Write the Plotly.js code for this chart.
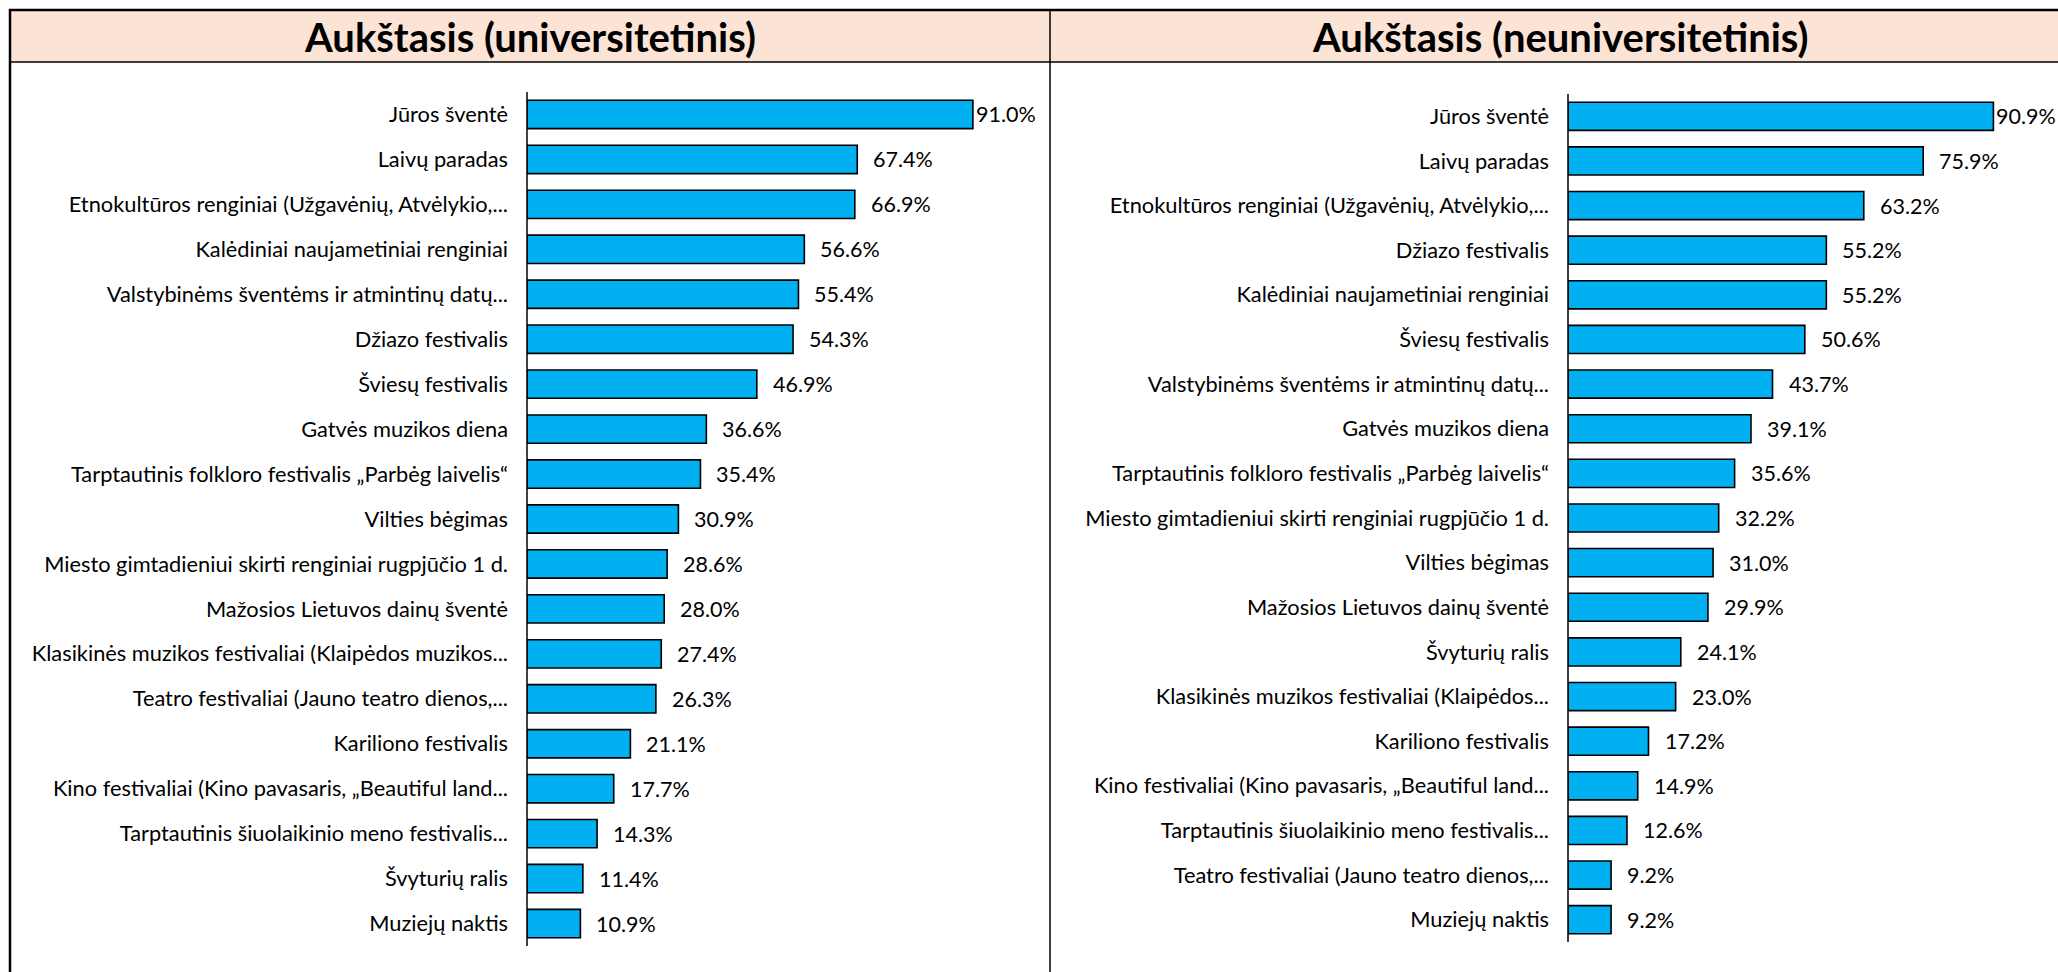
<!DOCTYPE html>
<html>
<head>
<meta charset="utf-8">
<script src="https://cdn.plot.ly/plotly-3.0.1.min.js"></script>
<style>html,body{margin:0;padding:0;background:#fff;} #chart{width:2058px;height:972px;}</style>
</head>
<body>
<div id="chart"></div>
<script>
const titleLeft = "Aukštasis (universitetinis)";
const titleRight = "Aukštasis (neuniversitetinis)";

const catsLeft = [
  "Jūros šventė",
  "Laivų paradas",
  "Etnokultūros renginiai (Užgavėnių, Atvėlykio,...",
  "Kalėdiniai naujametiniai renginiai",
  "Valstybinėms šventėms ir atmintinų datų...",
  "Džiazo festivalis",
  "Šviesų festivalis",
  "Gatvės muzikos diena",
  "Tarptautinis folkloro festivalis „Parbėg laivelis“",
  "Vilties bėgimas",
  "Miesto gimtadieniui skirti renginiai rugpjūčio 1 d.",
  "Mažosios Lietuvos dainų šventė",
  "Klasikinės muzikos festivaliai (Klaipėdos muzikos...",
  "Teatro festivaliai (Jauno teatro dienos,...",
  "Kariliono festivalis",
  "Kino festivaliai (Kino pavasaris, „Beautiful land...",
  "Tarptautinis šiuolaikinio meno festivalis...",
  "Švyturių ralis",
  "Muziejų naktis"
];
const valsLeft = [91.0, 67.4, 66.9, 56.6, 55.4, 54.3, 46.9, 36.6, 35.4, 30.9, 28.6, 28.0, 27.4, 26.3, 21.1, 17.7, 14.3, 11.4, 10.9];

const catsRight = [
  "Jūros šventė",
  "Laivų paradas",
  "Etnokultūros renginiai (Užgavėnių, Atvėlykio,...",
  "Džiazo festivalis",
  "Kalėdiniai naujametiniai renginiai",
  "Šviesų festivalis",
  "Valstybinėms šventėms ir atmintinų datų...",
  "Gatvės muzikos diena",
  "Tarptautinis folkloro festivalis „Parbėg laivelis“",
  "Miesto gimtadieniui skirti renginiai rugpjūčio 1 d.",
  "Vilties bėgimas",
  "Mažosios Lietuvos dainų šventė",
  "Švyturių ralis",
  "Klasikinės muzikos festivaliai (Klaipėdos...",
  "Kariliono festivalis",
  "Kino festivaliai (Kino pavasaris, „Beautiful land...",
  "Tarptautinis šiuolaikinio meno festivalis...",
  "Teatro festivaliai (Jauno teatro dienos,...",
  "Muziejų naktis"
];
const valsRight = [90.9, 75.9, 63.2, 55.2, 55.2, 50.6, 43.7, 39.1, 35.6, 32.2, 31.0, 29.9, 24.1, 23.0, 17.2, 14.9, 12.6, 9.2, 9.2];

const W = 2058, H = 972;
const FONT = "Lato, 'Open Sans', sans-serif";
const px = x => x / W;
const py = y => 1 - y / H;

function barTrace(cats, vals, xa, ya) {
  return {
    type: 'bar', orientation: 'h',
    y: cats, x: vals,
    xaxis: xa, yaxis: ya,
    marker: {color: '#00B0F0', line: {color: '#000000', width: 1.6}},
    width: 0.63,
    hoverinfo: 'x+y', showlegend: false
  };
}

function labelAnns(cats, vals, xa, ya) {
  return vals.map((v, i) => ({
    x: v, y: cats[i], xref: xa, yref: ya,
    text: v.toFixed(1) + '%', showarrow: false,
    xanchor: 'left', yanchor: 'middle', xshift: i === 0 ? 1 : 14,
    font: {family: FONT, size: 21.5, color: '#000000'}
  }));
}

const yBase = {
  type: 'category', autorange: 'reversed',
  showgrid: false, zeroline: false,
  showline: false, ticks: '',
  ticklabelstandoff: 18,
  tickfont: {family: FONT, size: 21.8, color: '#000000'},
  fixedrange: true
};
const xBase = {
  range: [0, 100], showgrid: false, zeroline: false,
  showline: false, showticklabels: false, ticks: '', fixedrange: true
};

const xdL = [px(527), px(527 + 490)];
const xdR = [px(1568), px(1568 + 468)];
const ydL = [py(946), py(92)];
const ydR = [py(942), py(94)];

const layout = {
  width: W, height: H,
  margin: {l: 0, r: 0, t: 0, b: 0},
  paper_bgcolor: '#ffffff', plot_bgcolor: 'rgba(0,0,0,0)',
  bargap: 0.37,
  xaxis: Object.assign({}, xBase, {domain: xdL, anchor: 'y'}),
  yaxis: Object.assign({}, yBase, {domain: ydL, anchor: 'x'}),
  xaxis2: Object.assign({}, xBase, {domain: xdR, anchor: 'y2', range: [0, 100]}),
  yaxis2: Object.assign({}, yBase, {domain: ydR, anchor: 'x2'}),
  shapes: [
    {type: 'rect', xref: 'paper', yref: 'paper', x0: px(10), x1: 1.01, y0: py(62), y1: py(10),
     fillcolor: '#FBE4D6', line: {width: 0}, layer: 'below'},
    {type: 'line', xref: 'paper', yref: 'paper', x0: px(10), x1: 1.01, y0: py(62), y1: py(62),
     line: {color: '#000000', width: 1.5}},
    {type: 'line', xref: 'paper', yref: 'paper', x0: px(9), x1: 1.01, y0: py(10), y1: py(10),
     line: {color: '#000000', width: 2.5}},
    {type: 'line', xref: 'paper', yref: 'paper', x0: px(10), x1: px(10), y0: py(9), y1: -0.01,
     line: {color: '#000000', width: 2.5}},
    {type: 'line', xref: 'paper', yref: 'paper', x0: px(1050), x1: px(1050), y0: py(9), y1: -0.01,
     line: {color: '#000000', width: 1.5}},
    {type: 'line', xref: 'paper', yref: 'paper', x0: xdL[0], x1: xdL[0], y0: ydL[0], y1: ydL[1],
     line: {color: '#000000', width: 1.5}},
    {type: 'line', xref: 'paper', yref: 'paper', x0: xdR[0], x1: xdR[0], y0: ydR[0], y1: ydR[1],
     line: {color: '#000000', width: 1.5}}
  ],
  annotations: [
    {xref: 'paper', yref: 'paper', x: px(530), y: py(37), text: '<b>' + titleLeft + '</b>',
     showarrow: false, xanchor: 'center', yanchor: 'middle',
     font: {family: FONT, size: 40, color: '#000000'}},
    {xref: 'paper', yref: 'paper', x: px(1560), y: py(37), text: '<b>' + titleRight + '</b>',
     showarrow: false, xanchor: 'center', yanchor: 'middle',
     font: {family: FONT, size: 40, color: '#000000'}}
  ].concat(labelAnns(catsLeft, valsLeft, 'x', 'y'), labelAnns(catsRight, valsRight, 'x2', 'y2'))
};

Plotly.newPlot('chart', [
  barTrace(catsLeft, valsLeft, 'x', 'y'),
  barTrace(catsRight, valsRight, 'x2', 'y2')
], layout, {displayModeBar: false, staticPlot: true});
</script>
</body>
</html>
